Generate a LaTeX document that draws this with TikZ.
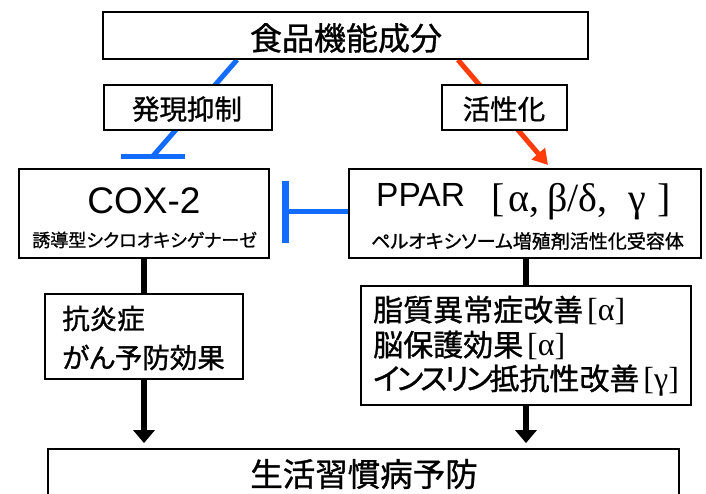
\documentclass[tikz,border=0pt]{standalone}
\usepackage{fontspec}
\setmainfont{Liberation Sans}
\newfontfamily\jp[RawFeature=+palt,FakeBold=1]{Noto Sans CJK JP}
\newfontfamily\grk{Liberation Serif}
\usetikzlibrary{arrows.meta,calc}
\pgfdeclarelayer{back}
\pgfdeclarelayer{bg}
\pgfsetlayers{back,bg,main}
\definecolor{inhblue}{RGB}{20,108,255}
\definecolor{actred}{RGB}{255,60,10}
\newcommand{\fsz}[1]{\fontsize{#1}{#1}\selectfont}
\newcommand{\tk}{\kern-3pt}
\begin{document}
\begin{tikzpicture}[x=1pt,y=-1pt,
  box/.style={draw=black, line width=1.8pt, fill=white, inner sep=0pt},
  txt/.style={inner sep=0pt},
  inh/.style={draw=inhblue, line width=5pt},
  act/.style={draw=actred, line width=5pt, -{Triangle[width=17pt,length=15pt]}},
  blkline/.style={draw=black, line width=6pt},
  blkarrow/.style={draw=black, line width=6pt, -{Triangle[width=21pt,length=13pt]}, shorten >=5pt}]
\path[use as bounding box] (0,0) rectangle (706,493);
\begin{pgfonlayer}{back}
  \fill[white] (0,0) rectangle (706,493);
\end{pgfonlayer}
\clip (0,0) rectangle (706,493);

% boxes
\node[box, minimum width=485pt, minimum height=47pt] (top) at (345.5,35.5) {};
\node[txt, font=\jp\fsz{32}] (topt) at (346,38) {食品機能成分};

\node[box, minimum width=168pt, minimum height=45pt] (supp) at (188,107.5) {};
\node[txt, font=\jp\fsz{27.5}] (suppt) at (187,109) {発現抑制};

\node[box, minimum width=125pt, minimum height=45pt] (actv) at (504.5,107.5) {};
\node[txt, font=\jp\fsz{27.5}] (actvt) at (504,109) {活性化};

\node[box, minimum width=250pt, minimum height=89pt] (cox) at (144,213.5) {};
\node[txt, anchor=base, font=\fsz{37}] (coxt) at (144,213) {COX-2};
\node[txt, font=\jp\fsz{18}] (coxs) at (144.5,240) {誘導型シクロオキシゲナーゼ};

\node[box, minimum width=352pt, minimum height=89pt] (ppar) at (525,213.5) {};
\node[txt, anchor=base west, font=\fsz{33.5}] (ppart) at (376,206)
  {PPAR\hspace{27pt}\raisebox{-5.5pt}{\grk\fsz{40}[\hspace{3pt}α,\hspace{8pt}β/δ,\hspace{21pt}γ\hspace{11pt}]}};
\node[txt, font=\jp\fsz{19}] (pars) at (527.5,241) {ペルオキシソーム増殖剤活性化受容体};

\node[box, minimum width=198pt, minimum height=85pt] (anti) at (144,336.5) {};
\node[txt, anchor=west, font=\jp\fsz{27.5}] (anti1) at (62,318.5) {抗炎症};
\node[txt, anchor=west, font=\jp\fsz{27.5}] (anti2) at (62,357.5) {がん予防効果};

\node[box, minimum width=330pt, minimum height=119pt] (lip) at (526,345.5) {};
\node[txt, anchor=west, font=\jp\fsz{30}] (lip1) at (373,310.5) {脂質異常症改善\hspace{4pt}{\grk\fsz{32}[α]}};
\node[txt, anchor=west, font=\jp\fsz{30}] (lip2) at (373,345.5) {脳保護効果\hspace{4pt}{\grk\fsz{32}[α]}};
\node[txt, anchor=west, font=\jp\fsz{30}] (lip3) at (373,380.5) {イ\tk ン\tk ス\tk リ\tk ン\tk 抵抗性改善\hspace{4pt}{\grk\fsz{32}[γ]}};

\node[box, minimum width=631pt, minimum height=50pt] (bot) at (363.5,474) {};
\node[txt, font=\jp\fsz{32.5}] (bott) at (364,474) {生活習慣病予防};

% free ends
\coordinate (bar1) at (153,156);
\coordinate (redtip) at (548,165);
\coordinate (tee) at (285,211);

\begin{pgfonlayer}{bg}
  \draw[inh] ([xshift=-108.5pt]top.south) -- (bar1);
  \draw[act] ([xshift=112.5pt]top.south) -- (redtip);
\end{pgfonlayer}
\draw[inh] ([xshift=-32pt]bar1) -- ([xshift=32pt]bar1);
\draw[inh] (ppar.west |- tee) -- (tee);
\draw[inh, line width=7pt] ([yshift=30pt]tee) -- ([yshift=-32pt]tee);

\draw[blkline] (cox.south) -- (anti.north);
\draw[blkline] (ppar.south -| lip.north) -- (lip.north);
\draw[blkarrow] (anti.south) -- (anti.south |- bot.north);
\draw[blkarrow] (lip.south) -- (lip.south |- bot.north);
\end{tikzpicture}
\end{document}
